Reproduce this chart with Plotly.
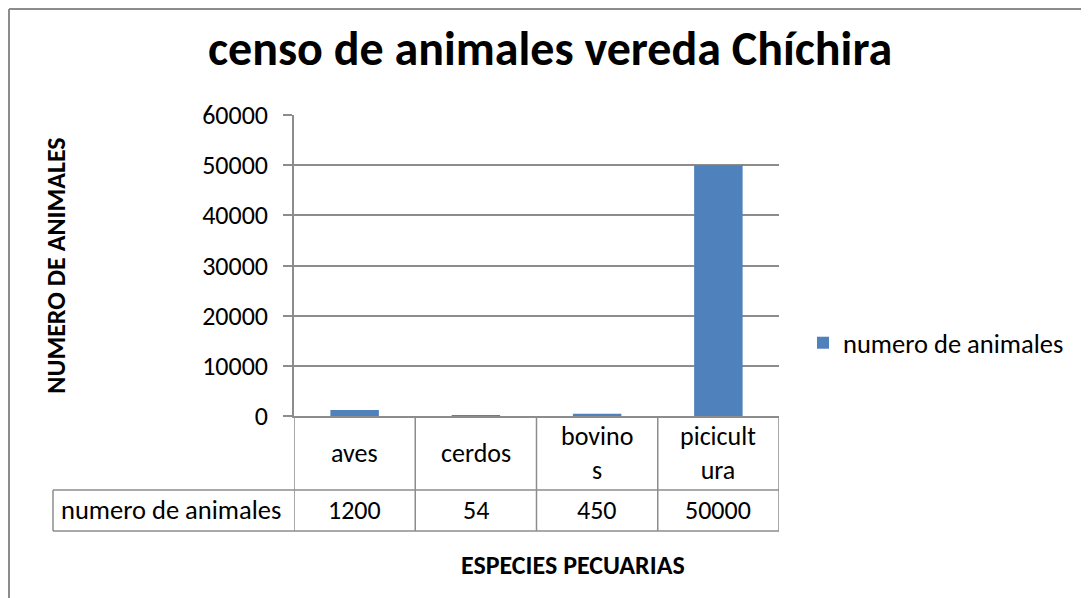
import plotly.graph_objects as go

# ---- data ----
categories = ["aves", "cerdos", "bovinos", "picicultura"]
category_labels = ["aves", "cerdos", "bovino<br>s", "picicult<br>ura"]
values = [1200, 54, 450, 50000]
series_name = "numero de animales"
y_ticks = [0, 10000, 20000, 30000, 40000, 50000, 60000]
title_text = "censo de animales vereda Chíchira"
y_title = "NUMERO DE ANIMALES"
x_title = "ESPECIES PECUARIAS"

FONT = "Carlito, Calibri, 'Liberation Sans Narrow', 'Open Sans', sans-serif"
GRID = "#8c8c8c"
BAR = "#4f81bd"

# the page has an 8px body margin, so the figure is 8px smaller
PAGE_W, PAGE_H, OFF = 1089, 598, 8
W, H = PAGE_W - OFF, PAGE_H - OFF
L, R, T, B = 294 - OFF, 310, 115 - OFF, 182
plot_w = W - L - R
plot_h = H - T - B

def py(pix):  # page pixel y -> paper y
    return (PAGE_H - B - pix) / plot_h

def px(pix):  # page pixel x -> paper x
    return (pix - OFF - L) / plot_w

fig = go.Figure()
fig.add_trace(go.Bar(x=categories, y=values, name=series_name,
                     marker=dict(color=BAR, line=dict(width=0)),
                     showlegend=True))

row_sep = py(490)
row_bot = py(531)

shapes = []
# vertical lines of the table at category boundaries
for i in range(len(categories) + 1):
    shapes.append(dict(type="line", xref="x", yref="paper",
                       x0=i - 0.5, x1=i - 0.5, y0=0, y1=row_bot,
                       line=dict(color=GRID, width=1.5)))
# horizontal table lines
for yy in (row_sep, row_bot):
    shapes.append(dict(type="line", xref="paper", yref="paper",
                       x0=px(53), x1=1, y0=yy, y1=yy,
                       line=dict(color=GRID, width=1.5)))
shapes.append(dict(type="line", xref="paper", yref="paper",
                   x0=px(53), x1=px(53), y0=row_sep, y1=row_bot,
                   line=dict(color=GRID, width=1.5)))
# outer chart border (top and left)
shapes.append(dict(type="line", xref="paper", yref="paper",
                   x0=px(9), x1=px(PAGE_W + 5), y0=py(9), y1=py(9),
                   line=dict(color="#8c8c8c", width=2)))
shapes.append(dict(type="line", xref="paper", yref="paper",
                   x0=px(9), x1=px(9), y0=py(9), y1=py(PAGE_H + 5),
                   line=dict(color="#8c8c8c", width=2)))

annotations = []
for cat, lab in zip(categories, category_labels):
    annotations.append(dict(x=cat, xref="x", y=py(453), yref="paper",
                            text=lab, showarrow=False, xanchor="center",
                            yanchor="middle",
                            font=dict(family=FONT, size=26, color="#000")))
for cat, v in zip(categories, values):
    annotations.append(dict(x=cat, xref="x", y=py(510), yref="paper",
                            text=str(v), showarrow=False, xanchor="center",
                            yanchor="middle",
                            font=dict(family=FONT, size=26, color="#000")))
annotations.append(dict(x=px(59), xref="paper", y=py(510), yref="paper",
                        text=series_name, showarrow=False, xanchor="left",
                        yanchor="middle",
                        font=dict(family=FONT, size=26.5, color="#000")))
annotations.append(dict(x=px(573), xref="paper", y=py(565), yref="paper",
                        text="<b>" + x_title + "</b>", showarrow=False,
                        xanchor="center", yanchor="middle",
                        font=dict(family=FONT, size=26, color="#000")))

fig.update_layout(
    width=W, height=H,
    margin=dict(l=L, r=R, t=T, b=B, pad=0, autoexpand=False),
    paper_bgcolor="white", plot_bgcolor="white",
    bargap=0.6,
    title=dict(text="<b>" + title_text + "</b>", x=(550 - OFF) / W,
               xref="container", xanchor="center",
               y=1 - (48 - OFF) / H, yref="container", yanchor="middle",
               font=dict(family=FONT, size=48, color="#000")),
    xaxis=dict(showticklabels=False, showgrid=False, zeroline=False,
               showline=True, linecolor=GRID, linewidth=1.5, ticks="",
               automargin=False, range=[-0.5, len(categories) - 0.5]),
    yaxis=dict(range=[0, 60000], tickvals=y_ticks, tickformat="d",
               showgrid=True, automargin=False,
               gridcolor=GRID, gridwidth=1.5, zeroline=False,
               showline=True, linecolor=GRID, linewidth=1.5,
               ticks="outside", ticklen=9, tickcolor=GRID, tickwidth=1.5,
               ticklabelstandoff=10,
               tickfont=dict(family=FONT, size=26, color="#000"),
               title=dict(text="<b>" + y_title + "</b>", standoff=129,
                          font=dict(family=FONT, size=26, color="#000"))),
    legend=dict(x=px(803), xanchor="left", y=py(343), yanchor="middle",
                font=dict(family=FONT, size=26.5, color="#000"),
                bgcolor="rgba(0,0,0,0)", borderwidth=0),
    shapes=shapes,
    annotations=annotations,
    showlegend=True,
)

fig.write_html("out.html")
